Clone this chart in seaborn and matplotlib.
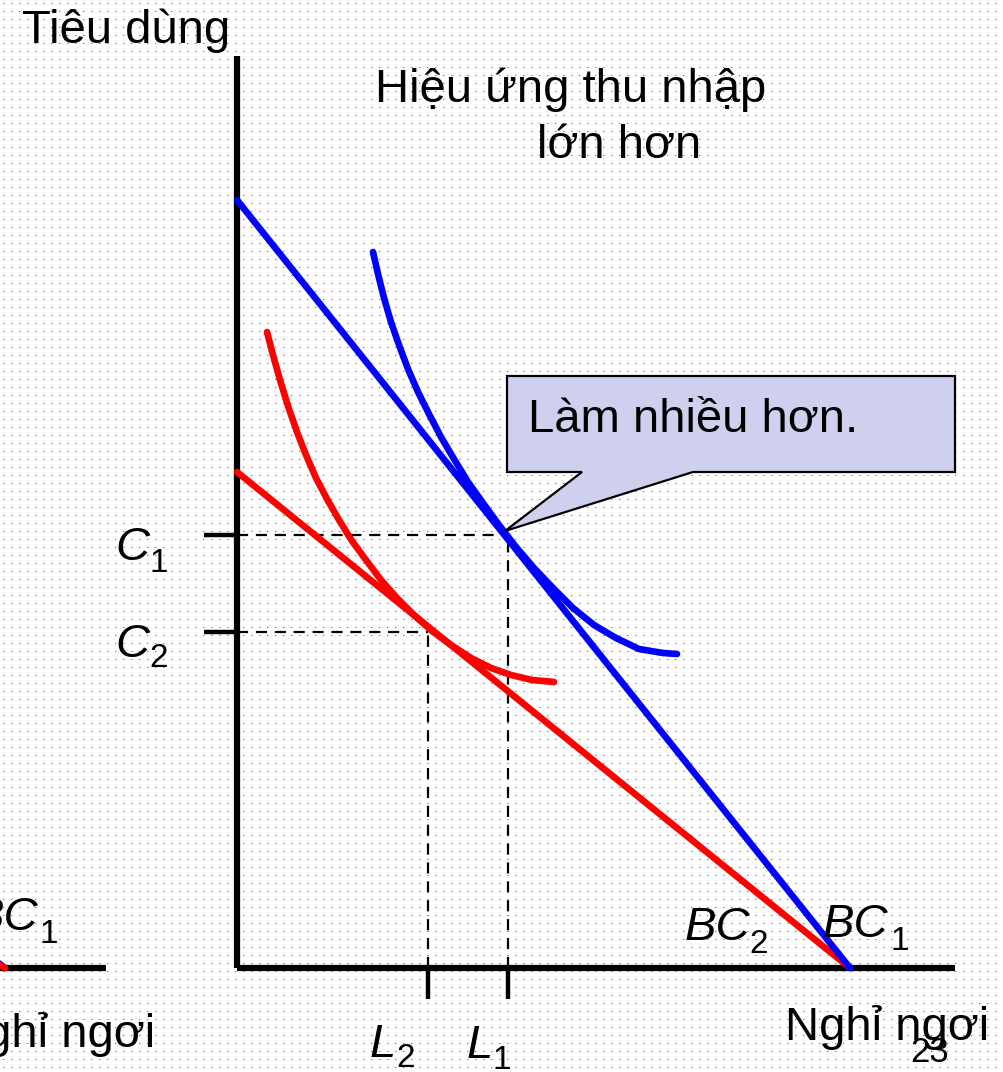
import numpy as np
import pandas as pd
import matplotlib
matplotlib.use("Agg")
import matplotlib.pyplot as plt
from matplotlib.patches import Polygon
import seaborn as sns

# ---------------- data (chart units: leisure on x, consumption on y) ----------------
bc1_leisure = [0, 613]
bc1_consumption = [768, 0]
bc2_leisure = [0, 613]
bc2_consumption = [496, 0]

ic_blue_leisure = [136, 141, 147, 154, 162, 171, 181, 192, 204, 217, 231,
                   246, 262, 279, 297, 316, 336, 357, 379, 402, 426, 440]
ic_blue_consumption = [716, 694, 670, 646, 623, 599, 576, 554, 531, 509, 486,
                       465, 443, 421, 400, 380, 360, 343, 330, 319, 315, 314]

ic_red_leisure = [30, 36, 43, 51, 60, 69, 79, 90, 102, 115, 129,
                  144, 160, 177, 195, 214, 234, 254, 274, 295, 317]
ic_red_consumption = [636, 613, 588, 562, 536, 513, 490, 469, 448, 427, 408,
                      388, 370, 353, 337, 323, 310, 300, 293, 288, 286]

L_points = [271, 191]      # L1, L2
C_points = [433, 336]      # C1, C2
L_subs = ["1", "2"]
C_subs = ["1", "2"]

callout_x = [270, 718, 718, 456, 268, 345, 270]
callout_y = [592, 592, 496, 496, 437, 496, 496]

# ---------------- style ----------------
sns.set_theme(style="white")
plt.rcParams["font.family"] = ["Liberation Sans", "DejaVu Sans"]
plt.rcParams["text.color"] = "black"

W, H = 1004, 1072
fig = plt.figure(figsize=(W / 100, H / 100), dpi=100)

# dotted slide background
bg = np.ones((H, W, 3))
bg[3::8, 3::8] = [0.05, 0.68, 0.35]
bg[3::8, 4::8] = [0.62, 0.88, 0.74]
fig.figimage(bg, xo=0, yo=0, zorder=-10)

ax = fig.add_axes([0, 0, 1, 1])
ax.set_zorder(5)
ax.patch.set_alpha(0)
ax.set_xlim(-237, 767)
ax.set_ylim(-104, 968)
ax.axis("off")

BLUE = "#0000FF"
RED = "#FF0000"
LW = 4.8
FS = 34
SFS = 24


def sub_label(x, y, main, sub, sx, sy, ha="left"):
    ax.text(x, y, main, fontsize=FS, fontstyle="italic", ha=ha, va="baseline", zorder=5)
    ax.text(sx, sy, sub, fontsize=SFS, ha="left", va="baseline", zorder=5)


# axes of main chart
ax.plot([0, 0], [0, 912], color="black", lw=4.5, solid_capstyle="butt", zorder=3)
ax.plot([0, 718], [0, 0], color="black", lw=4.5, solid_capstyle="butt", zorder=3)

# partial previous chart on the left
ax.plot([-237, -131], [0, 0], color="black", lw=4.5, solid_capstyle="butt", zorder=3)
ax.plot([-250, -232], [14, 0], color=BLUE, lw=LW, zorder=4)
ax.plot([-250, -232], [10, 0], color=RED, lw=LW, zorder=4)

# dashed guides + ticks
for lx, cy in zip(L_points, C_points):
    ax.plot([0, lx], [cy, cy], color="black", lw=1.6, ls=(0, (5, 3.5)), zorder=2)
    ax.plot([lx, lx], [0, cy], color="black", lw=1.6, ls=(0, (5, 3.5)), zorder=2)
    ax.plot([-33, 0], [cy, cy], color="black", lw=3.2, solid_capstyle="butt", zorder=3)
    ax.plot([lx, lx], [0, -31], color="black", lw=3.2, solid_capstyle="butt", zorder=3)

sub_label(-122, 408, "C", C_subs[0], -88, 396)
sub_label(-122, 311, "C", C_subs[1], -88, 301)
sub_label(230, -90, "L", L_subs[0], 256, -101)
sub_label(133, -89, "L", L_subs[1], 159, -99)

# budget lines
sns.lineplot(x=bc2_leisure, y=bc2_consumption, color=RED, lw=LW, ax=ax, sort=False,
             estimator=None, zorder=4)
sns.lineplot(x=bc1_leisure, y=bc1_consumption, color=BLUE, lw=LW, ax=ax, sort=False,
             estimator=None, zorder=4)
# indifference curves
sns.lineplot(x=ic_red_leisure, y=ic_red_consumption, color=RED, lw=LW, ax=ax, sort=False,
             estimator=None, zorder=4)
sns.lineplot(x=ic_blue_leisure, y=ic_blue_consumption, color=BLUE, lw=LW, ax=ax, sort=False,
             estimator=None, zorder=4)

# callout
ax.add_patch(Polygon(np.column_stack([callout_x, callout_y]), closed=True,
                     facecolor="#CFD0EE", edgecolor="black", lw=1.6, zorder=6))
ax.text(291, 536, "Làm nhiều hơn.", fontsize=FS, ha="left", va="baseline", zorder=7)

# texts
ax.text(-215, 925, "Tiêu dùng", fontsize=FS, ha="left", va="baseline", zorder=5)
ax.text(138, 866, "Hiệu ứng thu nhập", fontsize=FS, ha="left", va="baseline", zorder=5)
ax.text(300, 810, "lớn hơn", fontsize=FS, ha="left", va="baseline", zorder=5)
sub_label(448, 28, "BC", "2", 512, 15)
sub_label(586, 31, "BC", "1", 654, 18)
sub_label(-199, 38, "BC", "1", -197, 25, ha="right")
ax.text(548, -72, "Nghỉ ngơi", fontsize=FS, ha="left", va="baseline", zorder=5)
ax.text(-82, -79, "Nghỉ ngơi", fontsize=FS, ha="right", va="baseline", zorder=5)
ax.text(673, -94, "23", fontsize=25, ha="left", va="baseline", zorder=5)

fig.savefig("out.png", dpi=100)
